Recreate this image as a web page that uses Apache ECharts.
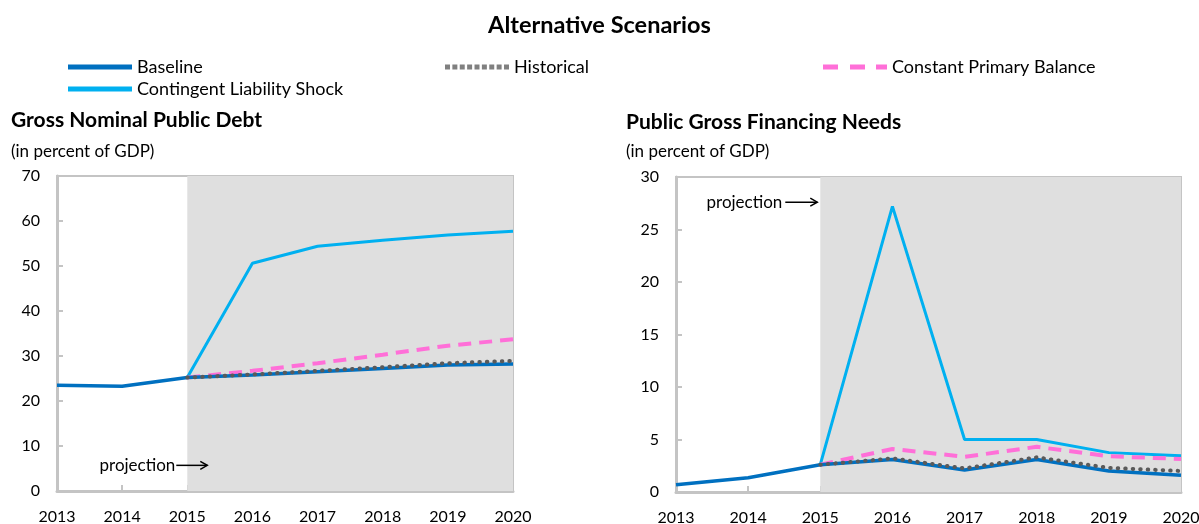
<!DOCTYPE html>
<html>
<head>
<meta charset="utf-8">
<script src="https://cdn.jsdelivr.net/npm/echarts@6/dist/echarts.min.js"></script>
<style>
  html, body { margin: 0; padding: 0; background: #fff; }
  #chart { width: 1199px; height: 524px; }
</style>
</head>
<body>
<div id="chart"></div>
<script>
// ---------- data ----------
const years = ['2013', '2014', '2015', '2016', '2017', '2018', '2019', '2020'];

const debtBaseline   = [23.5, 23.3, 25.2, 25.8, 26.5, 27.2, 28.0, 28.2];
const debtHistorical = [null, null, 25.2, 25.9, 26.7, 27.5, 28.4, 28.9];
const debtConstantPB = [null, null, 25.2, 26.7, 28.4, 30.3, 32.3, 33.7];
const debtContingent = [null, null, 25.2, 50.6, 54.4, 55.7, 56.9, 57.7];

const gfnBaseline   = [0.7, 1.35, 2.6, 3.1, 2.1, 3.1, 2.0, 1.6];
const gfnHistorical = [null, null, 2.6, 3.2, 2.25, 3.3, 2.3, 2.0];
const gfnConstantPB = [null, null, 2.6, 4.1, 3.35, 4.3, 3.4, 3.15];
const gfnContingent = [null, null, 2.6, 27.2, 5.0, 5.0, 3.75, 3.45];

const projectionStart = '2015';

// ---------- styles ----------
const FONT = 'Lato, "Noto Sans", sans-serif';
const C = {
  baseline: '#0070c0',
  historical: '#5a5a5a',
  historicalKey: '#808080',
  constant: '#ff6fd8',
  contingent: '#00b0f0',
  shade: '#dfdfdf',
  frame: '#c4c4c4'
};

// legend keys drawn as paths on a 64 x 5 box
let dotsPath = 'path://';
for (let i = 0; i < 9; i++) { const x = i * 7.4; dotsPath += `M${x},0 L${x + 5},0 L${x + 5},5 L${x},5 Z `; }
const dashPath = 'path://M0,0 L15,0 L15,5 L0,5 Z M27,0 L42,0 L42,5 L27,5 Z M53,0 L64,0 L64,5 L53,5 Z';

function seriesFor(i, base, hist, cpb, cont) {
  const common = { type: 'line', xAxisIndex: i, yAxisIndex: i, symbol: 'none', showSymbol: false, animation: false, connectNulls: false };
  return [
    { ...common, name: 'Contingent Liability Shock', data: cont, z: 2,
      lineStyle: { color: C.contingent, width: 3 }, itemStyle: { color: C.contingent },
      markArea: { silent: true, itemStyle: { color: C.shade }, data: [[{ xAxis: projectionStart }, { xAxis: years[years.length - 1] }]] } },
    { ...common, name: 'Constant Primary Balance', data: cpb, z: 3,
      lineStyle: { color: C.constant, width: 4, type: [13, 8] }, itemStyle: { color: C.constant } },
    { ...common, name: 'Baseline', data: base, z: 4,
      lineStyle: { color: C.baseline, width: 3.5 }, itemStyle: { color: C.baseline } },
    { ...common, name: 'Historical', data: hist, z: 5,
      lineStyle: { color: C.historical, width: 4, type: [0.5, 7], cap: 'round' }, itemStyle: { color: C.historical } }
  ];
}

function xAxisFor(i) {
  return {
    type: 'category', gridIndex: i, data: years, boundaryGap: false,
    axisLine: { lineStyle: { color: C.frame, width: 3 } },
    axisTick: { inside: true, length: 6, lineStyle: { color: C.frame, width: 2 } },
    axisLabel: { color: '#000', fontFamily: FONT, fontSize: 16, margin: 18, interval: 0 },
    splitLine: { show: false }
  };
}

function yAxisFor(i, max, step) {
  return {
    type: 'value', gridIndex: i, min: 0, max: max, interval: step,
    axisLine: { show: true, lineStyle: { color: C.frame, width: 3 } },
    axisTick: { show: true, inside: true, length: 6, lineStyle: { color: C.frame, width: 2 } },
    axisLabel: { color: '#000', fontFamily: FONT, fontSize: 16, margin: 17 },
    splitLine: { show: false }
  };
}

const legendText = { color: '#000', fontFamily: FONT, fontSize: 18 };
const legendBase = { orient: 'vertical', top: 58, padding: 0, itemWidth: 64, itemHeight: 5, itemGap: 4, textStyle: legendText, selectedMode: false };

const gridBase = { show: true, borderColor: C.frame, borderWidth: 2, backgroundColor: 'transparent', containLabel: false, outerBoundsMode: 'none' };

const chart = echarts.init(document.getElementById('chart'), null, { renderer: 'canvas' });
chart.setOption({
  animation: false,
  title: [
    { text: 'Alternative Scenarios', left: 'center', top: 13, padding: 0, textStyle: { fontFamily: FONT, fontWeight: 'bold', fontSize: 23.5, color: '#000' } },
    { text: 'Gross Nominal Public Debt', left: 11, top: 110, padding: 0, textStyle: { fontFamily: FONT, fontWeight: 'bold', fontSize: 21, color: '#000' } },
    { text: '(in percent of GDP)', left: 11, top: 143, padding: 0, textStyle: { fontFamily: FONT, fontWeight: 'normal', fontSize: 17, color: '#000' } },
    { text: 'Public Gross Financing Needs', left: 626, top: 112, padding: 0, textStyle: { fontFamily: FONT, fontWeight: 'bold', fontSize: 21, color: '#000' } },
    { text: '(in percent of GDP)', left: 626, top: 143, padding: 0, textStyle: { fontFamily: FONT, fontWeight: 'normal', fontSize: 17, color: '#000' } }
  ],
  legend: [
    { ...legendBase, left: 68, data: [
      { name: 'Baseline', icon: 'rect', itemStyle: { color: C.baseline } },
      { name: 'Contingent Liability Shock', icon: 'rect', itemStyle: { color: C.contingent } }
    ] },
    { ...legendBase, left: 445, data: [{ name: 'Historical', icon: dotsPath, itemStyle: { color: C.historicalKey } }] },
    { ...legendBase, left: 823, data: [{ name: 'Constant Primary Balance', icon: dashPath, itemStyle: { color: C.constant } }] }
  ],
  grid: [
    { ...gridBase, left: 57, right: 686, top: 176, bottom: 33 },
    { ...gridBase, left: 676, right: 18, top: 177, bottom: 32 }
  ],
  xAxis: [xAxisFor(0), xAxisFor(1)],
  yAxis: [yAxisFor(0, 70, 10), yAxisFor(1, 30, 5)],
  series: [
    ...seriesFor(0, debtBaseline, debtHistorical, debtConstantPB, debtContingent),
    ...seriesFor(1, gfnBaseline, gfnHistorical, gfnConstantPB, gfnContingent)
  ]
});

// ---------- "projection ->" annotations ----------
function arrowNote(tx, ty, x1, x2) {
  return [
    { type: 'text', z: 100, x: tx, y: ty, style: { text: 'projection', fill: '#000', font: '17px ' + FONT, align: 'right', verticalAlign: 'middle' } },
    { type: 'line', z: 100, shape: { x1: x1, y1: ty, x2: x2, y2: ty }, style: { stroke: '#000', lineWidth: 1.5 } },
    { type: 'polyline', z: 100, shape: { points: [[x2 - 7, ty - 4], [x2, ty], [x2 - 7, ty + 4]] }, style: { stroke: '#000', lineWidth: 1.5, fill: null } }
  ];
}
const pL = chart.convertToPixel({ gridIndex: 0 }, [projectionStart, 5.7]);
const pR = chart.convertToPixel({ gridIndex: 1 }, [projectionStart, 27.6]);
chart.setOption({
  graphic: [
    ...arrowNote(pL[0] - 12, pL[1], pL[0] - 11, pL[0] + 20),
    ...arrowNote(pR[0] - 38, pR[1], pR[0] - 35, pR[0] - 3)
  ]
});
</script>
</body>
</html>
